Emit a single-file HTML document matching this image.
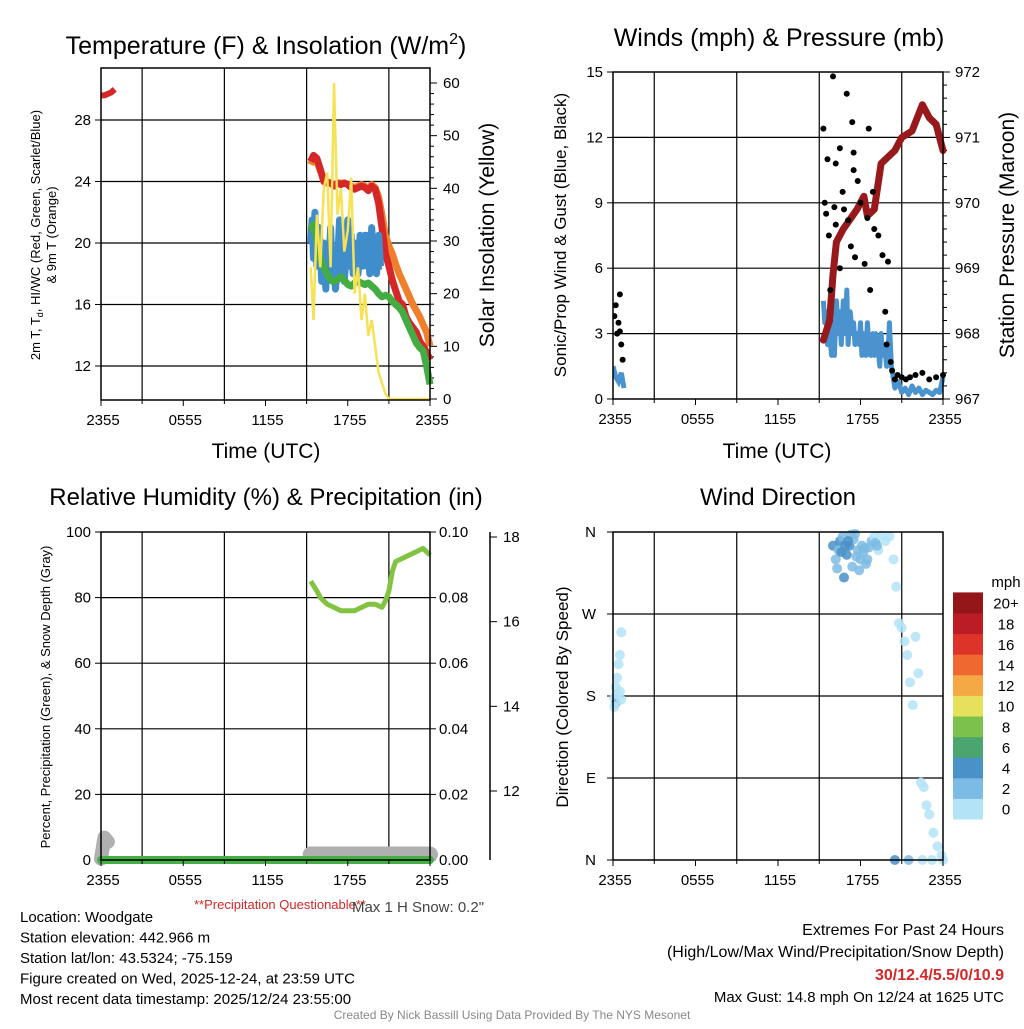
<!DOCTYPE html>
<html><head><meta charset="utf-8"><style>
body{margin:0;background:#fff;width:1024px;height:1024px;overflow:hidden}
svg{font-family:"Liberation Sans",sans-serif}
</style></head><body>
<svg id="s" width="1024" height="1024" viewBox="0 0 1024 1024"></svg>
<script>
// ---- data ----
const tempTimes=[15.3,15.5,15.75,16,16.25,16.5,16.75,17,17.25,17.5,17.75,18,18.25,18.5,18.75,19,19.25,19.5,19.75,20,20.25,20.5,20.75,21,21.25,21.5,21.75,22,22.25,22.5,22.75,23,23.25,23.5,23.75,24];
const temp2m=[25.3,25.7,25.5,24.8,24.0,23.9,23.9,23.7,23.9,23.8,23.9,23.8,23.6,23.5,23.6,23.7,23.6,23.4,23.7,23.5,22.6,21.0,19.3,18.5,17.6,16.9,16.2,16.0,15.2,14.8,14.5,14.2,13.6,13.3,12.9,12.4];
const temp9m=[25.1,25.5,25.3,24.7,24.1,24.0,23.9,23.8,23.9,23.9,23.9,23.8,23.7,23.6,23.7,23.8,23.7,23.5,23.8,23.6,23.0,21.8,20.5,19.8,19.3,18.6,18.0,17.5,17.0,16.5,16.0,15.6,15.2,14.7,14.2,13.3];
const dewp=[20.8,21.2,20.2,19.0,18.4,18.0,17.6,17.5,17.6,17.8,17.6,17.3,17.2,17.4,17.5,17.4,17.3,17.4,17.2,17.0,16.7,16.5,16.6,16.5,16.2,16.0,15.8,15.5,15.0,14.5,14.0,13.5,13.2,13.0,12.0,10.8];
const hiTimes=[15.3,15.4,15.5,15.6,15.75,15.9,16,16.1,16.25,16.4,16.5,16.6,16.75,16.9,17,17.1,17.25,17.4,17.5,17.6,17.75,17.9,18,18.1,18.25,18.4,18.5,18.6,18.75,18.9,19,19.1,19.25,19.4,19.5,19.6,19.75,19.9,20,20.1,20.25,20.4,20.5];
const hiwc=[20,21.5,19,22,18.5,21,19.5,17.5,20,17,19,18,21,17.5,19.5,17,18.5,21.5,18,20.5,17.5,19.5,21.5,18.5,20.5,18,20,18.5,18,20.5,19,18.5,20.5,18.5,20.5,18,21,18.5,19.5,18,20.5,18.5,18.5];
const earlyTimes=[0,0.25,0.5,0.75,1];
const earlyTemp=[29.6,29.6,29.7,29.8,30.0];
const solar=[25,15,35,25,40,43,25,60,35,40,28,32,42,20,25,15,20,12,15,10,5,3,1,0,0,0,0,0,0,0,0,0,0,0,0,0];

const windTimes=[15.3,15.4,15.5,15.6,15.75,15.9,16,16.1,16.25,16.4,16.5,16.6,16.75,16.9,17,17.1,17.25,17.4,17.5,17.6,17.75,17.9,18,18.1,18.25,18.4,18.5,18.6,18.75,18.9,19,19.1,19.25,19.4,19.5,19.6,19.75,19.9,20,20.1,20.25,20.5,20.75,21,21.25,21.5,21.75,22,22.25,22.5,22.75,23,23.25,23.5,23.75,24];
const sonic=[4.5,3.5,4,2.5,3,2,3.5,2,4.5,3,4,2.5,4.5,3,5,2.5,4,3,3.5,2.5,3,2.5,3.5,2,3,2,3.5,2.5,2,3,2,3,2.5,1.5,3,2,2.5,1.5,2,3.5,1.5,0.5,0.8,0.3,0.5,0.2,0.6,0.3,0.5,0.2,0.4,0.3,0.2,0.4,0.3,1.0];
const earlyWindTimes=[0,0.2,0.4,0.6,0.8];
const earlySonic=[1.5,1.0,0.8,1.2,0.5];
const gustTimes=[0.1,0.2,0.3,0.4,0.5,0.5,0.6,0.7,15.3,15.4,15.5,15.6,15.7,15.8,16.0,16.1,16.2,16.2,16.5,16.5,16.7,16.8,17.0,17.1,17.3,17.4,17.5,17.5,17.6,17.8,18.0,18.3,18.5,18.6,18.7,18.9,19.0,19.3,19.6,19.8,19.9,20.0,20.2,20.3,20.5,20.7,21.0,21.3,21.6,22.0,22.5,23.0,23.5,24.0];
const gusts=[3.8,4.3,3.0,3.5,4.8,3.1,2.5,1.8,12.4,9,8.5,11,7.5,5,14.8,8.8,8.0,10.8,6.0,11.5,9.5,8.7,14,8.2,7,12.7,10.5,11.3,6.5,10,9,6.2,8.3,12.4,5,9.5,7.8,7.5,6.6,4,2.5,6.3,1.7,1.3,0.9,1.1,1.0,0.9,1.0,1.1,1.2,0.9,1.0,1.1];
const presTimes=[15.3,15.75,16.0,16.25,16.75,17.25,17.75,18.25,18.5,19,19.5,20,20.5,21,21.75,22.5,23,23.5,24];
const pressure=[967.9,968.2,968.9,969.4,969.6,969.75,969.9,970.1,969.8,969.9,970.6,970.7,970.8,971.0,971.1,971.5,971.3,971.2,970.8];

const rhTimes=[15.3,15.75,16,16.5,17,17.5,18,18.5,19,19.5,20,20.5,20.75,21,21.25,21.5,22,22.5,23,23.5,24];
const rh=[85,82,80,78,77,76,76,76,77,78,78,77,79,82,88,91,92,93,94,95,93];
const snowTimes=[0,0.25,0.5,15.3,16,17,18,19,20,21,22,23,24];
const snowDepth=[10.4,10.9,10.8,10.5,10.5,10.5,10.5,10.5,10.5,10.5,10.5,10.5,10.5];

const dirTimes=[0.1,0.2,0.3,0.4,0.5,0.6,0.2,0.5,0.1,0.6,0.3,
16,16.2,16.4,16.5,16.7,16.9,17,17.2,17.3,17.5,17.6,17.8,18,18.1,18.2,18.4,18.6,18.8,19,19.1,19.3,19.5,16.3,16.8,17.4,17.9,18.5,19.2,16.6,17.1,17.7,18.3,
19.8,20.1,20.4,20.6,20.8,21,21.2,21.4,21.6,21.8,22,22.2,22.4,22.6,22.8,23,23.3,23.6,23.9,20.5,21.5,22.5,23.2,24];
const dirDeg=[178,190,200,215,225,250,172,185,168,176,182,
345,330,340,350,355,345,335,345,357,352,358,340,330,345,338,325,343,350,355,348,340,356,320,310,322,318,330,345,338,350,333,342,
350,355,330,300,260,255,240,225,195,170,245,205,85,80,60,50,30,15,5,0,0,0,0,0];
const dirSpeed=[0.5,0.5,0.5,0.5,0.5,0.5,3,0.5,0.5,0.5,1,
4,3,2,4,3,5,4,4,3,2,3,2,2,2,2,2,3,2,1,2,1,0.5,2,4,3,2,2,2,4,4,2,2,
0.5,1,0.5,0.5,0.5,0.5,0.5,0.5,0.5,0.5,0.5,0.5,0.5,0.5,0.5,0.5,0.5,0.5,0.5,4,3,0.5,0.5,0.5];

const xTickLabels=["2355","0555","1155","1755","2355"];
const dirLabels=["N","E","S","W","N"];
const cbLabels=["0","2","4","6","8","10","12","14","16","18","20+"];
const cbColors=["#b3e3f7","#7cbbe4","#4a91c8","#4aa56e","#7cc14b","#e6e15a","#f5a944","#ef6830","#de3328","#bb1c26","#951619"];

// ---- helpers ----
const S=document.getElementById('s');const NS="http://www.w3.org/2000/svg";
function el(tag,attrs,parent){const e=document.createElementNS(NS,tag);for(const k in attrs)e.setAttribute(k,attrs[k]);(parent||S).appendChild(e);return e;}
function txt(x,y,s,size,anchor,fill,parent,rot){const t=el('text',{x:x,y:y,'font-size':size,'text-anchor':anchor||'middle',fill:fill||'#000'},parent);if(rot)t.setAttribute('transform','rotate('+rot+' '+x+' '+y+')');t.textContent=s;return t;}
function lin(d0,d1,r0,r1){return v=>r0+(v-d0)*(r1-r0)/(d1-d0);}
function path(xs,ys,fx,fy){return xs.map((t,i)=>(i?'L':'M')+fx(t).toFixed(1)+' '+fy(ys[i]).toFixed(1)).join(' ');}
function clipFor(id,x0,y0,x1,y1){const cp=el('clipPath',{id:id});el('rect',{x:x0,y:y0,width:x1-x0,height:y1-y0},cp);}

function frame(g,x0,y0,x1,y1,hLines){
  const X=lin(0,24,x0,x1);
  [3,9,15,21].forEach(h=>el('line',{x1:X(h),y1:y0,x2:X(h),y2:y1,stroke:'#000','stroke-width':1.2},g));
  hLines.forEach(y=>el('line',{x1:x0,y1:y,x2:x1,y2:y,stroke:'#000','stroke-width':1.2},g));
}
function xAxis(g,x0,x1,y1){
  const X=lin(0,24,x0,x1);
  [0,6,12,18,24].forEach((h,i)=>{el('line',{x1:X(h),y1:y1,x2:X(h),y2:y1+6,stroke:'#000'},g);
   const t=txt(X(h)+2,y1+25,xTickLabels[i],15,'middle','#000',g);});
  [3,9,15,21].forEach(h=>el('line',{x1:X(h),y1:y1,x2:X(h),y2:y1+4,stroke:'#000'},g));
}
function border(g,x0,y0,x1,y1){el('rect',{x:x0,y:y0,width:x1-x0,height:y1-y0,fill:'none',stroke:'#000','stroke-width':1.5},g);}

// ===== Panel 1: temperature =====
(function(){
const g=el('g',{});
const x0=101,x1=430,y0=68,y1=400;
const X=lin(0,24,x0,x1), Y=lin(12,28,366,120), Ys=lin(0,60,399,83);
clipFor('c1',x0,y0,x1+4,y1);
frame(g,x0,y0,x1,y1,[12,16,20,24,28].map(Y));
[12,16,20,24,28].forEach(v=>{el('line',{x1:x0-6,y1:Y(v),x2:x0,y2:Y(v),stroke:'#000'},g);txt(x0-10,Y(v)+5,String(v),15,'end','#000',g);});
for(let v=0;v<=60;v+=2){const big=v%10==0;el('line',{x1:x1,y1:Ys(v),x2:x1+(big?7:4),y2:Ys(v),stroke:'#000'},g);if(big)txt(x1+13,Ys(v)+5,String(v),15,'start','#000',g);}
const d=el('g',{'clip-path':'url(#c1)'},g);
let p;
p=el('path',{d:path(tempTimes,temp9m,X,Y),fill:'none',stroke:'#f07f2c','stroke-width':7,'stroke-linejoin':'round'},d);
p=el('path',{d:path(tempTimes,temp2m,X,Y),fill:'none',stroke:'#d62728','stroke-width':7,'stroke-linejoin':'round'},d);
p=el('path',{d:path(earlyTimes,earlyTemp,X,Y),fill:'none',stroke:'#d62728','stroke-width':6},d);
p=el('path',{d:path(hiTimes,hiwc,X,Y),fill:'none',stroke:'#3f8ecb','stroke-width':7,'stroke-linejoin':'round'},d);
p=el('path',{d:path(tempTimes,dewp,X,Y),fill:'none',stroke:'#43ad43','stroke-width':7,'stroke-linejoin':'round'},d);
p=el('path',{d:path(tempTimes,solar,X,Ys),fill:'none',stroke:'#f7e155','stroke-width':2.5},d);
border(g,x0,y0,x1,y1);xAxis(g,x0,x1,y1);
let t=txt(266,54,'Temperature (F) & Insolation (W/m',25,'middle','#000',g);
const sup=el('tspan',{dy:-10,'font-size':16},t);sup.textContent='2';const tail=el('tspan',{dy:10},t);tail.textContent=')';
t=txt(266,458,'Time (UTC)',21,'middle','#000',g);
t=txt(40,235,'2m T, T',13,'middle','#000',g,-90);
const s2=el('tspan',{dy:3,'font-size':9},t);s2.textContent='d';const s3=el('tspan',{dy:-3},t);s3.textContent=', HI/WC (Red, Green, Scarlet/Blue)';
t=txt(56,235,'& 9m T (Orange)',13,'middle','#000',g,-90);
t=txt(494,235,'Solar Insolation (Yellow)',21,'middle','#000',g,-90);
})();

// ===== Panel 2: winds =====
(function(){
const g=el('g',{});
const x0=613,x1=943,y0=72,y1=399;
const X=lin(0,24,x0,x1), Y=lin(0,15,399,72), Yp=lin(967,972,399,72);
clipFor('c2',x0,y0-8,x1+8,y1+8);
frame(g,x0,y0,x1,y1,[3,6,9,12].map(Y));
[0,3,6,9,12,15].forEach(v=>{el('line',{x1:x0-6,y1:Y(v),x2:x0,y2:Y(v),stroke:'#000'},g);txt(x0-10,Y(v)+5,String(v),15,'end','#000',g);});
for(let v=967;v<=972.001;v+=0.2){const big=Math.abs(v-Math.round(v))<0.01;el('line',{x1:x1,y1:Yp(v),x2:x1+(big?7:4),y2:Yp(v),stroke:'#000'},g);if(big)txt(x1+12,Yp(v)+5,String(Math.round(v)),15,'start','#000',g);}
const d=el('g',{'clip-path':'url(#c2)'},g);
let p=el('path',{d:path(windTimes,sonic,X,Y),fill:'none',stroke:'#4a93cf','stroke-width':5,'stroke-linejoin':'round'},d);
p=el('path',{d:path(earlyWindTimes,earlySonic,X,Y),fill:'none',stroke:'#4a93cf','stroke-width':5},d);
p=el('path',{d:path(presTimes,pressure,X,Yp),fill:'none',stroke:'#98191b','stroke-width':7,'stroke-linejoin':'round','stroke-linecap':'round'},d);
gustTimes.forEach((t,i)=>{const c=el('circle',{cx:X(t),cy:Y(gusts[i]),r:3,fill:'#000'},d);});
border(g,x0,y0,x1,y1);xAxis(g,x0,x1,y1);
let t=txt(779,46,'Winds (mph) & Pressure (mb)',25,'middle','#000',g);
t=txt(777,458,'Time (UTC)',21,'middle','#000',g);
t=txt(566,235,'Sonic/Prop Wind & Gust (Blue, Black)',17,'middle','#000',g,-90);
t=txt(1014,235,'Station Pressure (Maroon)',21,'middle','#000',g,-90);
})();

// ===== Panel 3: RH =====
(function(){
const g=el('g',{});
const x0=101,x1=430,y0=532,y1=860;
const X=lin(0,24,x0,x1), Y=lin(0,100,860,532), Yq=lin(0,0.1,860,532), Ysn=lin(12,18,791,537);
clipFor('c3',x0-12,y0,x1+12,y1+14);
frame(g,x0,y0,x1,y1,[20,40,60,80].map(Y));
[0,20,40,60,80,100].forEach(v=>{el('line',{x1:x0-6,y1:Y(v),x2:x0,y2:Y(v),stroke:'#000'},g);txt(x0-10,Y(v)+5,String(v),15,'end','#000',g);});
[0,0.02,0.04,0.06,0.08,0.1].forEach(v=>{el('line',{x1:x1,y1:Yq(v),x2:x1+6,y2:Yq(v),stroke:'#000'},g);txt(x1+9,Yq(v)+5,v.toFixed(2),15,'start','#000',g);});
el('line',{x1:490,y1:y0,x2:490,y2:y1,stroke:'#000','stroke-width':1.5},g);
[12,14,16,18].forEach(v=>{el('line',{x1:490,y1:Ysn(v),x2:497,y2:Ysn(v),stroke:'#000'},g);txt(503,Ysn(v)+5,String(v),15,'start','#000',g);});
const d=el('g',{'clip-path':'url(#c3)'},g);
let p=el('path',{d:path(snowTimes.slice(0,3),snowDepth.slice(0,3),X,Ysn),fill:'none',stroke:'#b0b0b0','stroke-width':14,'stroke-linecap':'round','stroke-linejoin':'round'},d);
p=el('path',{d:path(snowTimes.slice(3),snowDepth.slice(3),X,Ysn),fill:'none',stroke:'#b0b0b0','stroke-width':16,'stroke-linecap':'round','stroke-linejoin':'round'},d);
p=el('line',{x1:X(0),y1:Yq(0),x2:X(24),y2:Yq(0),stroke:'#44b045','stroke-width':8,'stroke-linecap':'round'},d);
p=el('path',{d:path(rhTimes,rh,X,Y),fill:'none',stroke:'#82c341','stroke-width':5,'stroke-linejoin':'round'},d);
border(g,x0,y0,x1,y1);xAxis(g,x0,x1,y1);
let t=txt(266,505,'Relative Humidity (%) & Precipitation (in)',24,'middle','#000',g);
t=txt(50,697,'Percent, Precipitation (Green), & Snow Depth (Gray)',13,'middle','#000',g,-90);
t=txt(280,909,'**Precipitation Questionable**',13,'middle','#d62728',g);
t=txt(418,912,'Max 1 H Snow: 0.2"',15,'middle','#444',g);
})();

// ===== Panel 4: wind direction =====
(function(){
const g=el('g',{});
const x0=613,x1=943,y0=532,y1=860;
const X=lin(0,24,x0,x1), Y=lin(0,360,860,532);
frame(g,x0,y0,x1,y1,[90,180,270].map(Y));
[0,90,180,270,360].forEach((v,i)=>{el('line',{x1:x0-6,y1:Y(v),x2:x0,y2:Y(v),stroke:'#000'},g);txt(x0-17,Y(v)+5,dirLabels[i],15,'end','#000',g);});
function col(s){let k=Math.floor(s/2);if(k>10)k=10;if(k<0)k=0;return cbColors[k];}
dirTimes.forEach((t,i)=>{const c=el('circle',{cx:X(t),cy:Y(dirDeg[i]),r:5,fill:col(dirSpeed[i]),'fill-opacity':0.85},g);});
border(g,x0,y0,x1,y1);xAxis(g,x0,x1,y1);
let t=txt(778,505,'Wind Direction',24,'middle','#000',g);
t=txt(568,697,'Direction (Colored By Speed)',17,'middle','#000',g,-90);
const lg=el('g',{},g);
const bh=20.6;
cbColors.forEach((c,i)=>{const yy=819-(i+1)*bh;el('rect',{x:953,y:yy,width:30,height:bh+0.5,fill:c},lg);txt(1006,yy+bh/2+6,cbLabels[i],15,'middle','#000',lg);});
txt(1006,587,'mph',15,'middle','#000',lg);
})();

// ===== footer =====
const info=["Location: Woodgate","Station elevation: 442.966 m","Station lat/lon: 43.5324; -75.159","Figure created on Wed, 2025-12-24, at 23:59 UTC","Most recent data timestamp: 2025/12/24 23:55:00"];
info.forEach((s,i)=>{const t=txt(20,922+i*20.5,s,15,'start','#000');});
let t=txt(1004,935,'Extremes For Past 24 Hours',16,'end','#000');
t=txt(1004,957,'(High/Low/Max Wind/Precipitation/Snow Depth)',16,'end','#000');
t=txt(1004,980,'30/12.4/5.5/0/10.9',16,'end','#d62728');t.setAttribute('font-weight','bold');
t=txt(1004,1002,'Max Gust: 14.8 mph On 12/24 at 1625 UTC',15,'end','#000');
t=txt(512,1019,'Created By Nick Bassill Using Data Provided By The NYS Mesonet',12,'middle','#888');
</script>
</body></html>
